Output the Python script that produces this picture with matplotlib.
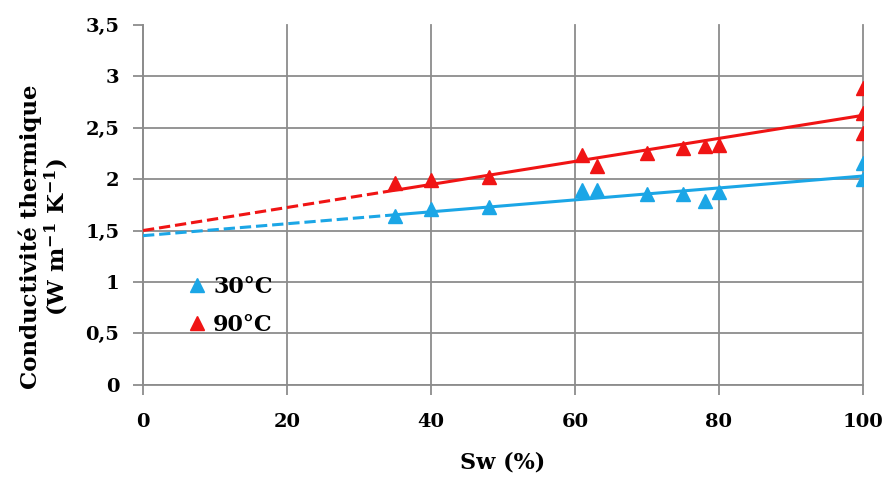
import numpy as np
import matplotlib.pyplot as plt

plt.rcParams['font.family'] = ['DejaVu Serif']
plt.rcParams['font.weight'] = 'bold'
plt.rcParams['mathtext.fontset'] = 'dejavuserif'
plt.rcParams['mathtext.default'] = 'bf'

# measured points (Sw in %, conductivity in W m-1 K-1)
sw_30 = [35, 40, 48, 61, 63, 70, 75, 78, 80, 100, 100]
k_30 = [1.64, 1.71, 1.73, 1.89, 1.89, 1.86, 1.86, 1.79, 1.87, 2.16, 2.00]
sw_90 = [35, 40, 48, 61, 63, 70, 75, 78, 80, 100, 100, 100]
k_90 = [1.96, 1.99, 2.02, 2.23, 2.13, 2.25, 2.30, 2.32, 2.33, 2.89, 2.64, 2.45]

# linear trends: (intercept, slope)
fit_30 = (1.45, 0.0058)
fit_90 = (1.50, 0.0112)
sw_start = 35

col_30 = '#1ba6e6'
col_90 = '#f01414'
grey = '#8c8c8c'

fig = plt.figure(figsize=(8.85, 4.78), dpi=100)
ax = fig.add_axes([0.1616, 0.195, 0.8134, 0.753])

for (b, a), col in [(fit_30, col_30), (fit_90, col_90)]:
    xd = np.array([0, sw_start])
    xs = np.array([sw_start, 100])
    ax.plot(xd, b + a * xd, '--', color=col, lw=2.2, zorder=3)
    ax.plot(xs, b + a * xs, '-', color=col, lw=2.2, zorder=3)

ax.plot(sw_30, k_30, '^', color=col_30, ms=10, ls='none', label='30°C', zorder=4)
ax.plot(sw_90, k_90, '^', color=col_90, ms=10, ls='none', label='90°C', zorder=4)

ax.set_xlim(0, 100)
ax.set_ylim(0, 3.5)
ax.set_xticks(np.arange(0, 101, 20))
ax.set_yticks(np.arange(0, 3.51, 0.5))
ax.set_yticklabels(['0', '0,5', '1', '1,5', '2', '2,5', '3', '3,5'])

ax.grid(True, color=grey, lw=1.3)
ax.set_axisbelow(True)
ax.get_ygridlines()[-1].set_visible(False)
for g in ax.get_xgridlines():
    g.set_clip_on(False)

for s in ['top', 'right']:
    ax.spines[s].set_visible(False)
for s in ['left', 'bottom']:
    ax.spines[s].set_color(grey)
    ax.spines[s].set_linewidth(1.3)

ax.tick_params(axis='both', direction='out', length=7, width=1.3, color=grey,
               labelsize=14)
ax.tick_params(axis='y', pad=10)
ax.tick_params(axis='x', pad=13)

ax.set_xlabel('Sw (%)', fontsize=16, fontweight='bold', labelpad=15)
ax.set_ylabel('Conductivité thermique\n(W m$^{-1}$ K$^{-1}$)', fontsize=16.5,
              fontweight='bold', linespacing=1.05)
ax.yaxis.set_label_coords(-0.1, 0.41)

ax.legend(loc='center left', bbox_to_anchor=(0.062, 0.219), frameon=False,
          fontsize=16, handlelength=0.8, handletextpad=0.35, labelspacing=0.7,
          borderaxespad=0, borderpad=0)

fig.savefig('out.png', dpi=100)
